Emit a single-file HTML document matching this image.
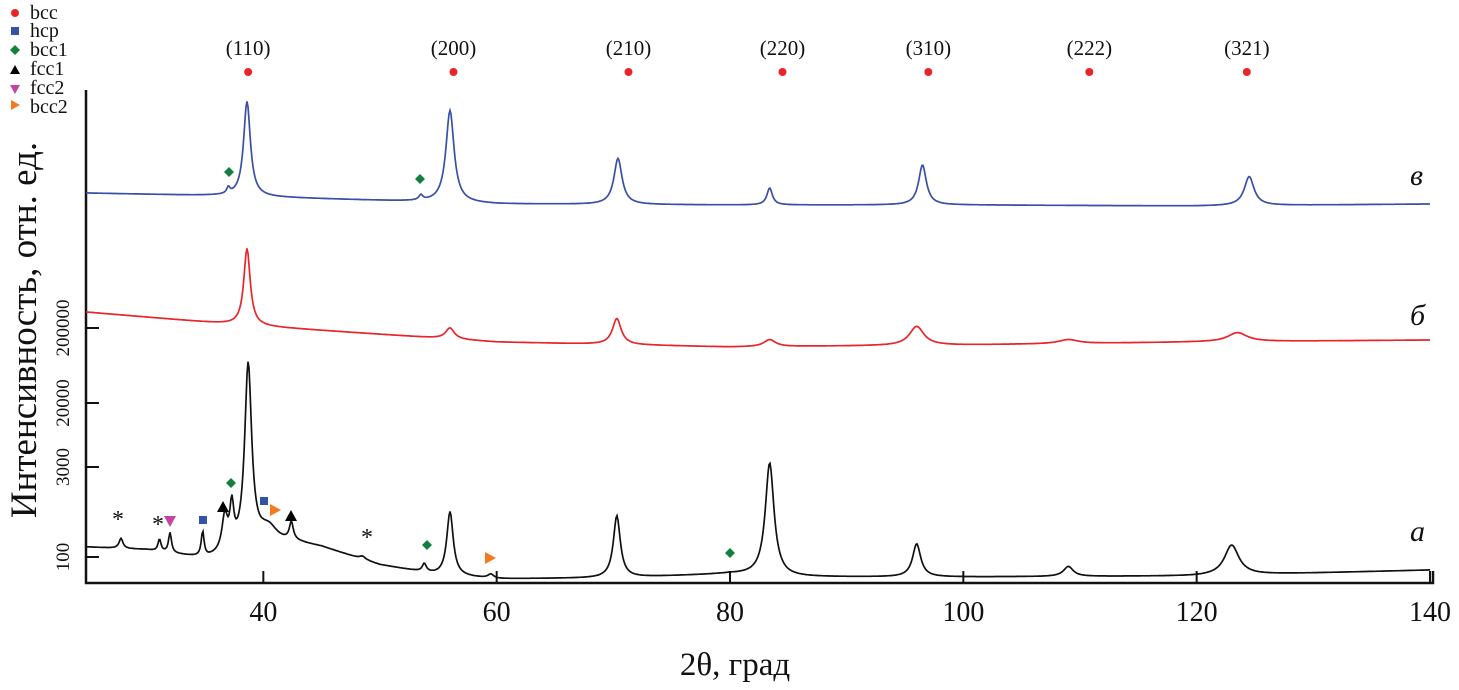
<!DOCTYPE html>
<html><head><meta charset="utf-8">
<style>
html,body{margin:0;padding:0;background:#fff;}
svg{display:block;font-family:"Liberation Serif",serif;}
</style></head>
<body>
<svg id="chart" width="1459" height="690" viewBox="0 0 1459 690">
 <g id="legend" font-size="20" fill="#111">
  <circle cx="15" cy="13" r="4" fill="#e8262a"/>
  <text x="30" y="19">bcc</text>
  <rect x="11" y="27" width="8" height="8" fill="#3553a4"/>
  <text x="30" y="37">hcp</text>
  <path d="M15,45 L20,50 L15,55 L10,50Z" fill="#13803f"/>
  <text x="30" y="56">bcc1</text>
  <path d="M10,74 L15,65 L20,74Z" fill="#000"/>
  <text x="30" y="75">fcc1</text>
  <path d="M10,85 L20,85 L15,94Z" fill="#c445a0"/>
  <text x="30" y="94">fcc2</text>
  <path d="M11,100 L20,105 L11,110Z" fill="#f47a20"/>
  <text x="30" y="113">bcc2</text>
 </g>
 <text transform="translate(36,330) rotate(-90)" text-anchor="middle" font-size="37" fill="#111">Интенсивность, отн. ед.</text>
 <text x="735" y="675" text-anchor="middle" font-size="33" fill="#111">2θ, град</text>
 <g id="axes"></g>
 <g id="series"></g>
 <g id="marks"></g>
</svg>
<script>
const xTicks=[40,60,80,100,120,140];
const yTickLabels=["200000","20000","3000","100"];
const yTickValues=[255,180,116,26];
const blueBase=[[24.8,390],[37,387],[60,379],[80,378],[100,378],[120,377],[140,379]];
const bluePeaks=[[38.6,95,0.35],[37.0,6,0.15],[53.5,5,0.2],[56.0,92,0.42],[70.4,46,0.42],[83.4,17,0.28],[96.5,40,0.4],[124.5,29,0.5]];
const redBase=[[24.8,271],[38,258],[60,241],[80,236],[100,238],[120,241],[140,243]];
const redPeaks=[[38.6,77,0.33],[56.0,11,0.45],[70.3,26,0.45],[83.4,7,0.6],[96.0,19,0.75],[109,4,1],[123.5,9,1]];
const blackBase=[[24.8,36],[30,33],[35,24],[37,28],[40,42],[43,40],[45,36],[50,18],[55,8],[60,4],[70,5],[80,9],[85,6],[100,6],[120,7],[140,13]];
const blackPeaks=[[27.8,10,0.2],[31.1,12,0.15],[32.0,20,0.15],[34.8,25,0.15],[36.7,35,0.3],[37.3,40,0.2],[38.7,182,0.36],[40.5,12,0.8],[42.4,18,0.2],[48.5,3,0.3],[53.8,8,0.2],[56.0,64,0.33],[59.5,4,0.3],[70.3,62,0.36],[83.4,113,0.45],[96.0,33,0.42],[109.0,10,0.5],[123.0,30,0.75]];
const hklLabels=["(110)","(200)","(210)","(220)","(310)","(222)","(321)"];
const hklPos=[38.7,56.3,71.3,84.5,97.0,110.8,124.3];

const X0=86,X1=1430,XMIN=24.8,XMAX=140,Y0=583;
const xs=v=>X0+(v-XMIN)/(XMAX-XMIN)*(X1-X0);
const ys=v=>Y0-v;
const NS="http://www.w3.org/2000/svg";
function mk(t,a,p){const e=document.createElementNS(NS,t);for(const k in a)e.setAttribute(k,a[k]);p.appendChild(e);return e;}
const axes=document.getElementById('axes');
let l=mk('path',{d:`M${X0},90 L${X0},${Y0} L1433,${Y0} L1433,${Y0-12}`,fill:'none',stroke:'#111','stroke-width':2.5},axes);


xTicks.forEach(v=>{
 const t=mk('line',{x1:xs(v),x2:xs(v),y1:Y0,y2:Y0-12,stroke:'#111','stroke-width':2},axes);
 
 
 const tx=mk('text',{x:xs(v),y:621,'text-anchor':'middle','font-size':28,fill:'#111'},axes);
 tx.textContent=v;
 
 
});
yTickValues.forEach((v,i)=>{
 const y=ys(v);
 const t=mk('line',{x1:X0,x2:X0+13,y1:y,y2:y,stroke:'#111','stroke-width':2},axes);
 
 
 const tx=mk('text',{transform:`translate(69,${y}) rotate(-90)`,'text-anchor':'middle','font-size':19,fill:'#111'},axes);
 tx.textContent=yTickLabels[i];
 
 
});
function baseAt(b,x){for(let i=0;i<b.length-1;i++){if(x<=b[i+1][0]){const f=(x-b[i][0])/(b[i+1][0]-b[i][0]);return b[i][1]+f*(b[i+1][1]-b[i][1]);}}return b[b.length-1][1];}
function draw(base,peaks,color,name){
 let d='';
 for(let px=X0;px<=X1;px+=1){
  const x=XMIN+(px-X0)/(X1-X0)*(XMAX-XMIN);
  let v=baseAt(base,x);
  peaks.forEach(p=>{const u=(x-p[0])/p[2];v+=p[1]/(1+u*u);});
  d+=(d?'L':'M')+px+','+ys(v).toFixed(1);
 }
 const p=mk('path',{d:d,fill:'none',stroke:color,'stroke-width':1.7},document.getElementById('series'));
 
 
}
draw(blueBase,bluePeaks,'#3a4fa8','series-v');
draw(redBase,redPeaks,'#e8262a','series-b');
draw(blackBase,blackPeaks,'#111','series-a');

const M=document.getElementById('marks');
hklPos.forEach((v,i)=>{
 const c=mk('circle',{cx:xs(v),cy:72,r:4,fill:'#e8262a'},M);
 
 
 const t=mk('text',{x:xs(v),y:55,'text-anchor':'middle','font-size':21,fill:'#111'},M);
 t.textContent=hklLabels[i];
 
 
});
const diamonds=[[229,172],[420,179],[231,483],[427,545],[730,553]];
diamonds.forEach(p=>{const e=mk('path',{d:`M${p[0]},${p[1]-5}L${p[0]+5},${p[1]}L${p[0]},${p[1]+5}L${p[0]-5},${p[1]}Z`,fill:'#13803f'},M);
 
 });
[[203,520],[264,501]].forEach(p=>{const e=mk('rect',{x:p[0]-4,y:p[1]-4,width:8,height:8,fill:'#3553a4'},M);
 
 });
[[223,507],[291,516]].forEach(p=>{const e=mk('path',{d:`M${p[0]-6},${p[1]+5}L${p[0]},${p[1]-6}L${p[0]+6},${p[1]+5}Z`,fill:'#000'},M);
 
 });
[[170,521]].forEach(p=>{const e=mk('path',{d:`M${p[0]-6},${p[1]-5}L${p[0]+6},${p[1]-5}L${p[0]},${p[1]+6}Z`,fill:'#c445a0'},M);
 
 });
[[275,510],[490,558]].forEach(p=>{const e=mk('path',{d:`M${p[0]-5},${p[1]-6}L${p[0]+6},${p[1]}L${p[0]-5},${p[1]+6}Z`,fill:'#f47a20'},M);
 
 });
[[118,527],[158,532],[367,545]].forEach(p=>{const e=mk('text',{x:p[0],y:p[1],'text-anchor':'middle','font-size':24,fill:'#111'},M);
 e.textContent='*';
 
 });
[["в",1410,185],["б",1410,325],["а",1410,541]].forEach(s=>{const e=mk('text',{x:s[1],y:s[2],'font-size':30,'font-style':'italic',fill:'#111'},M);
 e.textContent=s[0];
 
 });
</script>
</body></html>
